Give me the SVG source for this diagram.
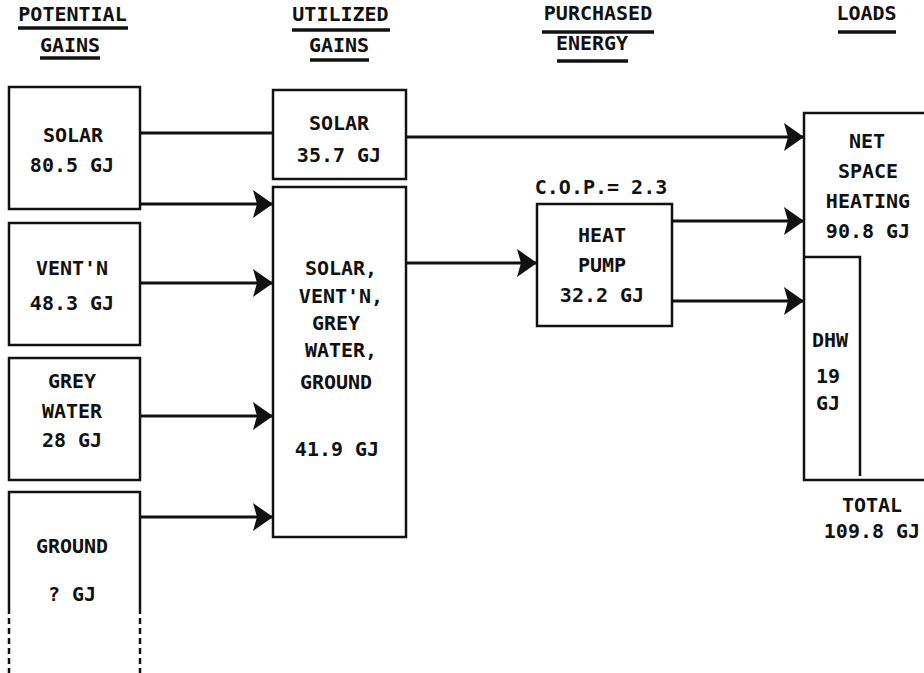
<svg xmlns="http://www.w3.org/2000/svg" width="924" height="673" viewBox="0 0 924 673">
<style>
text{font-family:"DejaVu Sans Mono","Liberation Mono",monospace;font-size:20px;font-weight:bold;fill:#111;}
.c{text-anchor:middle;}
.box{fill:none;stroke:#111;stroke-width:2.5;}
.ul{stroke:#111;stroke-width:3.5;}
.ln{stroke:#111;stroke-width:3;fill:none;}
.dash{stroke:#111;stroke-width:2.5;stroke-dasharray:6 4;}
</style>
<defs>
<marker id="ah" markerUnits="userSpaceOnUse" markerWidth="24" markerHeight="32" viewBox="-22 -15 24 30" refX="0" refY="0" orient="auto">
<path d="M-20,-14 L0,0 L-20,14 L-16,0 Z" fill="#111"/>
</marker>
</defs>
<rect width="924" height="673" fill="#fff"/>
<g id="headers">
<text class="c" x="72.5" y="21">POTENTIAL</text>
<line class="ul" x1="18" y1="28" x2="128" y2="28"/>
<text class="c" x="70" y="52">GAINS</text>
<line class="ul" x1="40" y1="58" x2="100" y2="58"/>
<text class="c" x="340.5" y="21">UTILIZED</text>
<line class="ul" x1="292" y1="30" x2="390" y2="30"/>
<text class="c" x="339" y="52">GAINS</text>
<line class="ul" x1="310" y1="60" x2="369" y2="60"/>
<text class="c" x="598" y="20">PURCHASED</text>
<line class="ul" x1="542" y1="32" x2="654" y2="32"/>
<text class="c" x="592" y="50">ENERGY</text>
<line class="ul" x1="557" y1="61" x2="628" y2="61"/>
<text class="c" x="866.5" y="20">LOADS</text>
<line class="ul" x1="838" y1="32" x2="896" y2="32"/>
</g>
<g id="pot-solar">
<rect class="box" x="9" y="87" width="131" height="122"/>
<text class="c" x="73" y="142">SOLAR</text>
<text class="c" x="72" y="172">80.5 GJ</text>
</g>
<g id="pot-ventn">
<rect class="box" x="9" y="223" width="131" height="122"/>
<text class="c" x="72" y="275">VENT'N</text>
<text class="c" x="72" y="310">48.3 GJ</text>
</g>
<g id="pot-grey">
<rect class="box" x="9" y="358" width="131" height="122"/>
<text class="c" x="72" y="388">GREY</text>
<text class="c" x="72" y="418">WATER</text>
<text class="c" x="72" y="447">28 GJ</text>
</g>
<g id="pot-ground">
<path class="box" d="M9,614 L9,492 L140,492 L140,614"/>
<line class="dash" x1="9" y1="618" x2="9" y2="673"/>
<line class="dash" x1="140" y1="618" x2="140" y2="673"/>
<text class="c" x="72" y="553">GROUND</text>
<text class="c" x="72" y="601">? GJ</text>
</g>
<g id="util-solar">
<rect class="box" x="273" y="90" width="133" height="89"/>
<text class="c" x="339" y="130">SOLAR</text>
<text class="c" x="339" y="162">35.7 GJ</text>
</g>
<g id="util-combined">
<rect class="box" x="273" y="187" width="133" height="350"/>
<text class="c" x="341" y="275">SOLAR,</text>
<text class="c" x="341" y="303">VENT'N,</text>
<text class="c" x="336" y="330">GREY</text>
<text class="c" x="341" y="357">WATER,</text>
<text class="c" x="336" y="389">GROUND</text>
<text class="c" x="337" y="456">41.9 GJ</text>
</g>
<g id="heat-pump">
<text class="c" x="601" y="194">C.O.P.= 2.3</text>
<rect class="box" x="537" y="204" width="135" height="122"/>
<text class="c" x="602" y="242">HEAT</text>
<text class="c" x="602" y="272">PUMP</text>
<text class="c" x="602" y="302">32.2 GJ</text>
</g>
<g id="loads">
<path class="box" d="M924,113 L804,113 L804,480 L924,480"/>
<path class="box" d="M804,257 L860,257 L860,476"/>
<text class="c" x="867" y="148">NET</text>
<text class="c" x="868" y="178">SPACE</text>
<text class="c" x="868" y="208">HEATING</text>
<text class="c" x="868" y="238">90.8 GJ</text>
<text x="812" y="347">DHW</text>
<text x="816" y="383">19</text>
<text x="816" y="410">GJ</text>
<text class="c" x="872" y="512">TOTAL</text>
<text class="c" x="872" y="538">109.8 GJ</text>
</g>
<g id="connectors">
<line class="ln" x1="140" y1="133" x2="273" y2="133"/>
<line class="ln" x1="406" y1="137" x2="804" y2="137" marker-end="url(#ah)"/>
<line class="ln" x1="140" y1="204" x2="273" y2="204" marker-end="url(#ah)"/>
<line class="ln" x1="140" y1="283" x2="273" y2="283" marker-end="url(#ah)"/>
<line class="ln" x1="140" y1="416" x2="273" y2="416" marker-end="url(#ah)"/>
<line class="ln" x1="140" y1="517" x2="273" y2="517" marker-end="url(#ah)"/>
<line class="ln" x1="406" y1="263" x2="537" y2="263" marker-end="url(#ah)"/>
<line class="ln" x1="672" y1="221" x2="804" y2="221" marker-end="url(#ah)"/>
<line class="ln" x1="672" y1="301" x2="804" y2="301" marker-end="url(#ah)"/>
</g>
</svg>
